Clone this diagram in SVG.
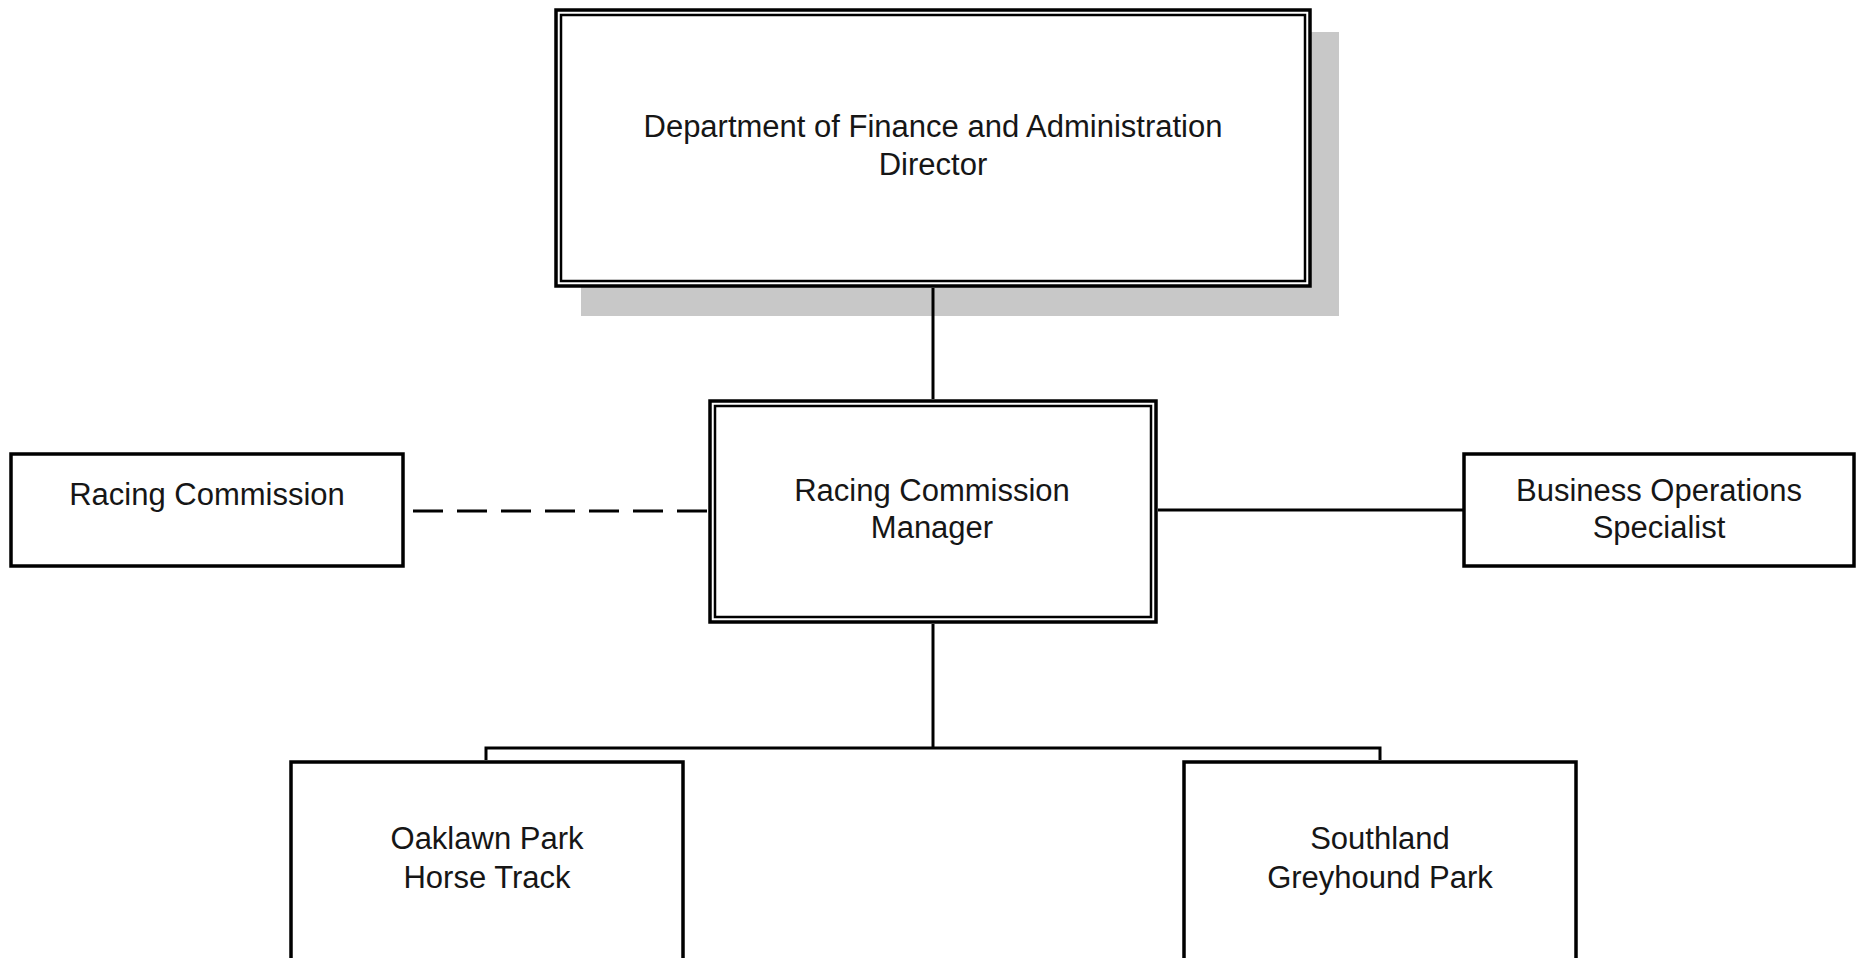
<svg xmlns="http://www.w3.org/2000/svg" width="1860" height="958" viewBox="0 0 1860 958">
<style>
.box{fill:#fff;stroke:#000;stroke-width:3.5}
.inner{fill:none;stroke:#000;stroke-width:2.5}
.shadow{fill:#c8c8c8}
.lbl{font-family:"Liberation Sans",Arial,sans-serif;font-size:31px;fill:#161616;text-anchor:middle}
.con{fill:none;stroke:#000;stroke-width:3}
</style>
<rect width="1860" height="958" fill="#fff"/>
<g id="director">
<rect class="shadow" x="581" y="32" width="758" height="284"/>
<rect class="box" x="556" y="10" width="754" height="276" stroke-width="5"/>
<rect class="inner" x="561" y="15" width="744" height="266"/>
<text class="lbl" x="933" y="137">Department of Finance and Administration</text>
<text class="lbl" x="933" y="175">Director</text>
</g>
<g id="manager">
<rect class="box" x="710" y="401" width="446" height="221" stroke-width="4.5"/>
<rect class="inner" x="715" y="406" width="436" height="211"/>
<text class="lbl" x="932" y="501">Racing Commission</text>
<text class="lbl" x="932" y="538">Manager</text>
</g>
<g id="racing-commission">
<rect class="box" x="11" y="454" width="392" height="112"/>
<text class="lbl" x="207" y="505">Racing Commission</text>
</g>
<g id="business-ops">
<rect class="box" x="1464" y="454" width="390" height="112"/>
<text class="lbl" x="1659" y="501">Business Operations</text>
<text class="lbl" x="1659" y="538">Specialist</text>
</g>
<g id="oaklawn">
<rect class="box" x="291" y="762" width="392" height="200"/>
<text class="lbl" x="487" y="849">Oaklawn Park</text>
<text class="lbl" x="487" y="888">Horse Track</text>
</g>
<g id="southland">
<rect class="box" x="1184" y="762" width="392" height="200"/>
<text class="lbl" x="1380" y="849">Southland</text>
<text class="lbl" x="1380" y="888">Greyhound Park</text>
</g>
<g id="connectors">
<line class="con" x1="933" y1="288" x2="933" y2="399"/>
<line class="con" x1="933" y1="624" x2="933" y2="748"/>
<polyline class="con" points="486,760 486,748 1380,748 1380,760"/>
<line class="con" x1="1158" y1="510" x2="1464" y2="510" stroke-width="2.2"/>
<line class="con" x1="413" y1="511" x2="708" y2="511" stroke-width="4" stroke-dasharray="30,14"/>
</g>
</svg>
